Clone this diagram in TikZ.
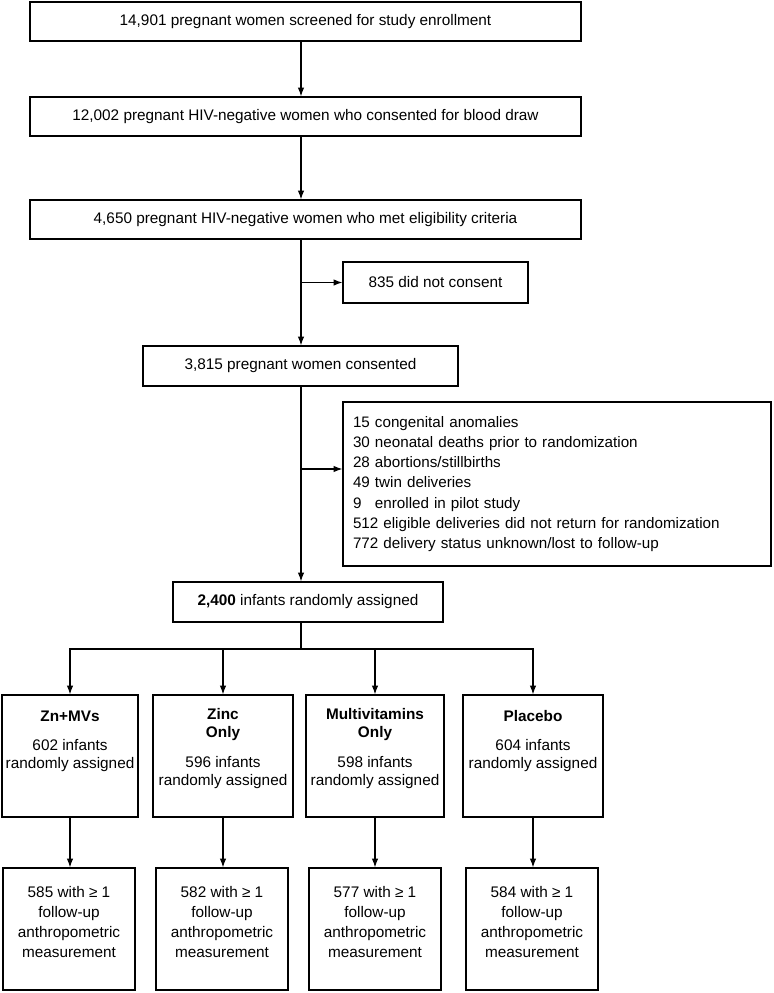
\documentclass[tikz,border=0pt]{standalone}
\usepackage{fontspec}
\setmainfont{Liberation Sans}
\usetikzlibrary{arrows.meta,positioning}

\begin{document}
\begin{tikzpicture}[x=0.75pt,y=-0.75pt,
		box/.style={draw,line width=0.9pt,inner sep=0pt},
		txt/.style={align=center,font=\fontsize{11.5}{13.5}\selectfont},
		arr/.style={-{Latex[length=6.5pt,width=4.8pt]},line width=0.9pt}]
		\useasboundingbox (0,0) rectangle (774,993);
		\coordinate (spine) at (301,0);
		\coordinate (split) at (301,649);

		\draw (305.5,21.5) node [box, txt, minimum width=413.25pt, minimum height=29.25pt] (screen) {14,901 pregnant women screened for study enrollment};
		\draw (305.5,116.5) node [box, txt, minimum width=413.25pt, minimum height=29.25pt] (blood) {12,002 pregnant HIV-negative women who consented for blood draw};
		\draw (305.5,219.5) node [box, txt, minimum width=413.25pt, minimum height=29.25pt] (elig) {4,650 pregnant HIV-negative women who met eligibility criteria};
		\draw (435.5,282.5) node [box, txt, minimum width=138.75pt, minimum height=30.75pt] (refuse) {835 did not consent};
		\draw (300.5,366) node [box, txt, minimum width=236.25pt, minimum height=30pt] (consent) {3,815 pregnant women consented};
		\draw (557,484) node [box, align=left, inner xsep=7.5pt, text width=306pt, minimum height=123pt, font=\fontsize{11.4}{15.2}\selectfont] (excl) {15 congenital anomalies\\
			30 neonatal deaths prior to randomization\\
			28 abortions/stillbirths\\
			49 twin deliveries\\
			9\hphantom{0} enrolled in pilot study\\
			512 eligible deliveries did not return for randomization\\
			772 delivery status unknown/lost to follow-up};
		\draw (308,602) node [box, txt, minimum width=202.5pt, minimum height=30pt] (rand) {\textbf{2,400} infants randomly assigned};

		% treatment groups
		\draw (70,756) node [box, minimum width=102pt, minimum height=91.5pt] (zm) {};
		\draw (223,756) node [box, minimum width=105pt, minimum height=91.5pt] (zn) {};
		\draw (375,756) node [box, minimum width=103.5pt, minimum height=91.5pt] (mv) {};
		\draw (533,756) node [box, minimum width=105pt, minimum height=91.5pt] (pl) {};
		\draw (70,741) node [txt] (zmt) {\textbf{Zn+MVs}\\[8.5pt] 602 infants\\ randomly assigned};
		\draw (223,748.5) node [txt] (znt) {\textbf{Zinc}\\ \textbf{Only}\\[8.5pt] 596 infants\\ randomly assigned};
		\draw (375,748.5) node [txt] (mvt) {\textbf{Multivitamins}\\ \textbf{Only}\\[8.5pt] 598 infants\\ randomly assigned};
		\draw (533,741) node [txt] (plt) {\textbf{Placebo}\\[8.5pt] 604 infants\\ randomly assigned};

		% follow-up
		\draw (69,929) node [box, minimum width=99pt, minimum height=91.5pt] (fzm) {};
		\draw (222,929) node [box, minimum width=99pt, minimum height=91.5pt] (fzn) {};
		\draw (375,929) node [box, minimum width=99pt, minimum height=91.5pt] (fmv) {};
		\draw (532,929) node [box, minimum width=99pt, minimum height=91.5pt] (fpl) {};
		\draw (69,922) node [txt, font=\fontsize{11.5}{15}\selectfont] (fzmt) {585 with ≥ 1\\ follow-up\\ anthropometric\\ measurement};
		\draw (222,922) node [txt, font=\fontsize{11.5}{15}\selectfont] (fznt) {582 with ≥ 1\\ follow-up\\ anthropometric\\ measurement};
		\draw (375,922) node [txt, font=\fontsize{11.5}{15}\selectfont] (fmvt) {577 with ≥ 1\\ follow-up\\ anthropometric\\ measurement};
		\draw (532,922) node [txt, font=\fontsize{11.5}{15}\selectfont] (fplt) {584 with ≥ 1\\ follow-up\\ anthropometric\\ measurement};

		\draw [arr] (screen.south -| spine) -- (blood.north -| spine);
		\draw [arr] (blood.south -| spine) -- (elig.north -| spine);
		\draw [arr] (elig.south -| spine) -- (consent.north -| spine);
		\draw [arr] (spine |- refuse.west) -- (refuse.west);
		\draw [arr] (consent.south -| spine) -- (rand.north -| spine);
		\draw [arr] (spine |- excl.176) -- (excl.176);
		\draw [line width=0.9pt] (rand.south -| spine) -- (split);
		\foreach \g in {zm,zn,mv,pl}
			\draw [arr] (split) -| (\g.north);
		\foreach \g in {zm,zn,mv,pl}
			\draw [arr] (\g.south) -- (\g.south |- f\g.north);
	\end{tikzpicture}
\end{document}
